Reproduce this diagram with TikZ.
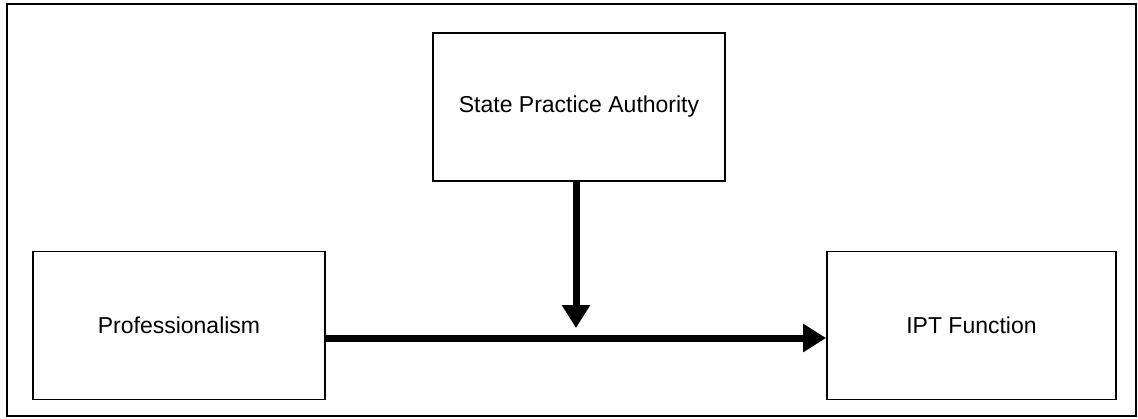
\documentclass[tikz,border=0pt]{standalone}
\usepackage{fontspec}
\setmainfont{Liberation Sans}
\usetikzlibrary{arrows.meta}
\begin{document}
\begin{tikzpicture}[x=1pt,y=-1pt,
  box/.style={draw=black, line width=1.8pt, minimum width=292pt, minimum height=148pt,
    inner sep=0pt, font=\fontsize{23}{27}\selectfont},
  flow/.style={line width=7pt, -{Triangle[length=23pt,width=27pt]}}]
  \useasboundingbox (0,0) rectangle (1138,418);
  % frame around the whole figure
  \draw[line width=1.8pt] (7,4) rectangle (1136,416);
  \node[box] (spa) at (579,107) {State Practice Authority};
  \node[box] (prof) at (179,325.5) {Professionalism};
  \node[box, minimum width=289pt] (ipt) at (971.5,325.5) {IPT Function};
  % moderator arrow stops just above the main path
  \coordinate (mod) at (576,328);
  \draw[flow] (prof.east |- 0,338) -- (ipt.west |- 0,338);
  \draw[flow] (spa.south -| mod) -- (mod);
\end{tikzpicture}
\end{document}
